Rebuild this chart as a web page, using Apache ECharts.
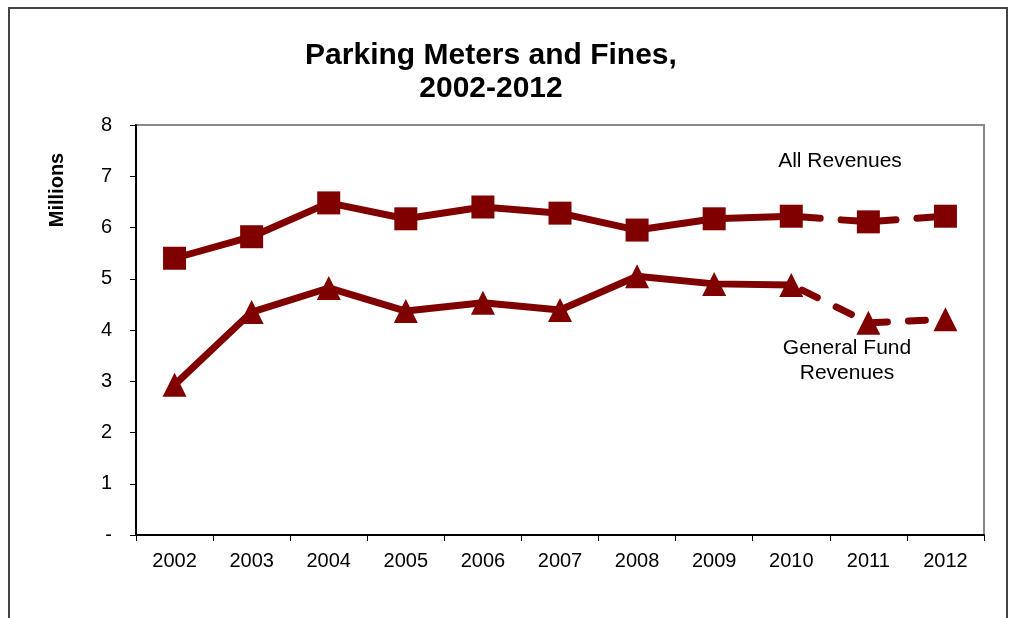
<!DOCTYPE html>
<html>
<head>
<meta charset="utf-8">
<script src="https://cdn.jsdelivr.net/npm/echarts@6/dist/echarts.min.js"></script>
<style>
html,body{margin:0;padding:0;background:#fff;}
#chart{width:1011px;height:618px;}
</style>
</head>
<body>
<div id="chart"></div>
<script>
var years = ['2002','2003','2004','2005','2006','2007','2008','2009','2010','2011','2012'];
var allRevenues = [5.40, 5.82, 6.48, 6.17, 6.40, 6.28, 5.95, 6.17, 6.22, 6.11, 6.22];
var generalFund = [2.93, 4.35, 4.82, 4.37, 4.53, 4.39, 5.05, 4.90, 4.88, 4.14, 4.21];
var lastActualIndex = 8; // 2010: solid through here, dashed afterwards
var yTicks = [0, 1, 2, 3, 4, 5, 6, 7, 8];

function solidPart(arr){ return arr.map(function(v,i){ return i <= lastActualIndex ? v : '-'; }); }
function dashedPart(arr){ return arr.map(function(v,i){
  if (i < lastActualIndex) return '-';
  if (i === lastActualIndex) return {value: v, symbol: 'none'};
  return v; }); }

var color = '#800000';
var font = '"Liberation Sans", Arial, sans-serif';
var chart = echarts.init(document.getElementById('chart'));

function mk(name, data, symbol, dashed){
  return {
    name: name, type: 'line', data: data,
    symbol: symbol, symbolSize: symbol === 'triangle' ? [24, 24] : 23,
    showAllSymbol: true, connectNulls: false, animation: false,
    lineStyle: {color: color, width: 7, type: dashed ? [17, 21] : 'solid', dashOffset: dashed ? -12 : 0, cap: 'round', join: 'round'},
    itemStyle: {color: color, borderWidth: 0},
    z: dashed ? 3 : 4
  };
}

chart.setOption({
  animation: false,
  backgroundColor: '#fff',
  title: {
    text: 'Parking Meters and Fines,\n2002-2012',
    left: 486, top: 34, textAlign: 'center',
    textStyle: {fontFamily: font, fontSize: 30, fontWeight: 'bold', color: '#000', lineHeight: 33}
  },
  grid: {left: 136, right: 27, top: 125, bottom: 83, show: true, borderColor: '#888', borderWidth: 2, backgroundColor: 'transparent'},
  xAxis: {
    type: 'category', data: years, boundaryGap: true,
    axisLine: {lineStyle: {color: '#000', width: 2}},
    axisTick: {show: true, length: 6, lineStyle: {color: '#000', width: 1}},
    axisLabel: {fontFamily: font, fontSize: 20, color: '#000', margin: 16},
    splitLine: {show: false}
  },
  yAxis: {
    type: 'value', min: yTicks[0], max: yTicks[yTicks.length-1], interval: 1,
    axisLine: {show: true, lineStyle: {color: '#000', width: 2}},
    axisTick: {show: true, length: 6, lineStyle: {color: '#000', width: 1}},
    axisLabel: {fontFamily: font, fontSize: 20, color: '#000', margin: 24,
      formatter: function(v){ return v === 0 ? '-' : String(v); }},
    splitLine: {show: false}
  },
  series: [
    mk('All Revenues', solidPart(allRevenues), 'rect', false),
    mk('All Revenues est', dashedPart(allRevenues), 'rect', true),
    mk('General Fund Revenues', solidPart(generalFund), 'triangle', false),
    mk('General Fund Revenues est', dashedPart(generalFund), 'triangle', true)
  ],
  graphic: [
    {type: 'rect', shape: {x: 9, y: 8, width: 998, height: 700}, style: {fill: 'none', stroke: '#444', lineWidth: 2}, silent: true, z: -1},
    {type: 'text', x: 57, y: 190, rotation: Math.PI/2, style: {text: 'Millions', fontFamily: font, fontSize: 20, fontWeight: 'bold', fill: '#000', textAlign: 'center', textVerticalAlign: 'middle'}},
    {type: 'text', x: 840, y: 161, style: {text: 'All Revenues', fontFamily: font, fontSize: 21, fill: '#000', textAlign: 'center', textVerticalAlign: 'middle'}},
    {type: 'text', x: 847, y: 361, style: {text: 'General Fund\nRevenues', fontFamily: font, fontSize: 21, lineHeight: 25, fill: '#000', textAlign: 'center', textVerticalAlign: 'middle'}}
  ]
});
</script>
</body>
</html>
